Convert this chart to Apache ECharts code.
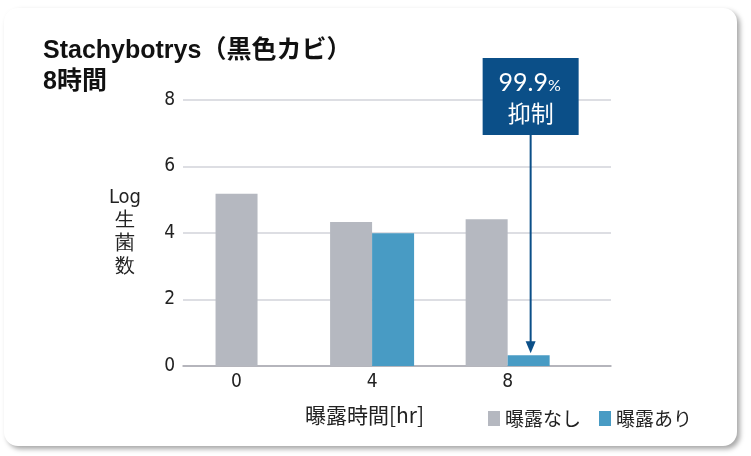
<!DOCTYPE html>
<html><head><meta charset="utf-8">
<script src="https://cdn.jsdelivr.net/npm/echarts@6/dist/echarts.min.js"></script>
<style>
html,body{margin:0;padding:0;background:#fff;width:751px;height:456px;overflow:hidden}
#card{position:absolute;left:4px;top:8px;width:733px;height:438px;border-radius:14px;background:#fff;box-shadow:3px 3px 5px rgba(0,0,0,0.35)}
#c{position:absolute;left:0;top:0;width:751px;height:456px}
</style></head><body>
<div id="card"></div><div id="c"></div>
<script>
const hours = [0, 4, 8];
const xTickLabels = ['0', '4', '8'];
const yTicks = [0, 2, 4, 6, 8];
const unexposed = [5.18, 4.33, 4.41];   // 曝露なし
const exposed = [null, 3.99, 0.32];     // 曝露あり
const seriesNames = ['曝露なし', '曝露あり'];
const titleLines = ['Stachybotrys（黒色カビ）', '8時間'];
const yName = ['Log', '生', '菌', '数'];
const xName = '曝露時間[hr]';
const annotation = ['99.9', '%', '抑制'];

const GRAY = '#b5b8c0', BLUE = '#489bc4', DARK = '#0b4f88';
const NUM_FONT = '"DejaVu Sans Condensed", "Liberation Sans Narrow", Roboto, sans-serif';
const JP_FONT = '"Noto Sans CJK JP", "Noto Sans", sans-serif';
const TITLE_FONT = '"Liberation Sans", Arial, "Noto Sans CJK JP", sans-serif';

const grayGroup = hours.map((h, i) => [h, unexposed[i]]).filter((d, i) => exposed[i] != null);
const grayAlone = hours.map((h, i) => [h, unexposed[i]]).filter((d, i) => exposed[i] == null);
const blueGroup = hours.map((h, i) => [h, exposed[i]]).filter(d => d[1] != null);

const chart = echarts.init(document.getElementById('c'), null, {renderer: 'canvas'});
const xMin = -1.58, xMax = 11.05;
const xBase = {
  type: 'value', min: xMin, max: xMax,
  splitLine: {show: false}, axisTick: {show: false}
};
chart.setOption({
  backgroundColor: 'transparent',
  animation: false,
  title: [
    {text: titleLines.join('\n'), left: 38, top: 31,
     textStyle: {fontFamily: TITLE_FONT, fontSize: 25, fontWeight: 'bold', color: '#111', lineHeight: 31}},
    {text: xName, left: 300, top: 400,
     textStyle: {fontFamily: JP_FONT, fontSize: 21, fontWeight: 'normal', color: '#222'}}
  ],
  legend: {
    data: seriesNames, left: 483, top: 404, itemWidth: 12, itemHeight: 15, itemGap: 18,
    icon: 'rect',
    textStyle: {fontFamily: JP_FONT, fontSize: 19, color: '#222'}
  },
  grid: {left: 183, right: 140, top: 100, bottom: 90, containLabel: false},
  xAxis: [
    Object.assign({}, xBase, {
      axisLine: {show: true, lineStyle: {color: '#a8a8b0', width: 1.5}},
      axisLabel: {show: true, customValues: hours, formatter: v => xTickLabels[hours.indexOf(v)],
        fontFamily: NUM_FONT, fontSize: 19, color: '#222', margin: 7}
    }),
    Object.assign({}, xBase, {show: false})
  ],
  yAxis: {
    type: 'value', min: 0, max: 8, interval: 2,
    axisLine: {show: false}, axisTick: {show: false},
    axisLabel: {fontFamily: NUM_FONT, fontSize: 19, color: '#222', margin: 8,
      formatter: v => yTicks.includes(v) ? String(v) : ''},
    splitLine: {lineStyle: {color: '#d2d3da', width: 1.5}}
  },
  series: [
    {name: seriesNames[0], type: 'bar', xAxisIndex: 0, data: grayGroup, barWidth: 42, barGap: '0%',
     itemStyle: {color: GRAY}},
    {name: seriesNames[1], type: 'bar', xAxisIndex: 0, data: blueGroup, barWidth: 42, barGap: '0%',
     itemStyle: {color: BLUE}},
    {name: seriesNames[0], type: 'bar', xAxisIndex: 1, data: grayAlone, barWidth: 42,
     itemStyle: {color: GRAY}}
  ]
});

const lastIdx = hours.length - 1;
const cx = chart.convertToPixel({xAxisIndex: 0}, hours[lastIdx]) + 21 + 2;
const tipY = chart.convertToPixel({yAxisIndex: 0}, exposed[lastIdx]) - 2;
const boxTop = chart.convertToPixel({yAxisIndex: 0}, 9.26);
const boxBottom = chart.convertToPixel({yAxisIndex: 0}, 6.95);
const boxW = 96;
const yAxisX = chart.convertToPixel({xAxisIndex: 0}, xMin);
chart.setOption({
  graphic: [
    {type: 'rect', shape: {x: cx - boxW / 2, y: boxTop, width: boxW, height: boxBottom - boxTop},
     style: {fill: DARK}, z: 10},
    {type: 'text', x: cx - 1, y: boxTop + 25, z: 11,
     style: {text: '{a|' + annotation[0] + '}{b|' + annotation[1] + '}', align: 'center', verticalAlign: 'middle',
       rich: {a: {fontFamily: 'Lato, "Open Sans", sans-serif', fontSize: 25, fill: '#fff'},
              b: {fontFamily: 'Lato, "Open Sans", sans-serif', fontSize: 16, fill: '#fff', padding: [5, 0, 0, 0]}}}},
    {type: 'text', x: cx, y: boxTop + 55, z: 11,
     style: {text: annotation[2], align: 'center', verticalAlign: 'middle',
       fontFamily: JP_FONT, fontSize: 23, fill: '#fff'}},
    {type: 'line', shape: {x1: cx, y1: boxBottom, x2: cx, y2: tipY - 10},
     style: {stroke: DARK, lineWidth: 2}, z: 10},
    {type: 'polygon', shape: {points: [[cx - 5, tipY - 12], [cx + 5, tipY - 12], [cx, tipY]]},
     style: {fill: DARK}, z: 10},
    {type: 'text', x: yAxisX - 58, y: chart.convertToPixel({yAxisIndex: 0}, 5.4), z: 11,
     style: {text: yName.join('\n'), align: 'center', verticalAlign: 'top', lineHeight: 23,
       fontFamily: NUM_FONT, fontSize: 20, fill: '#222'}}
  ]
});
</script>
</body></html>
